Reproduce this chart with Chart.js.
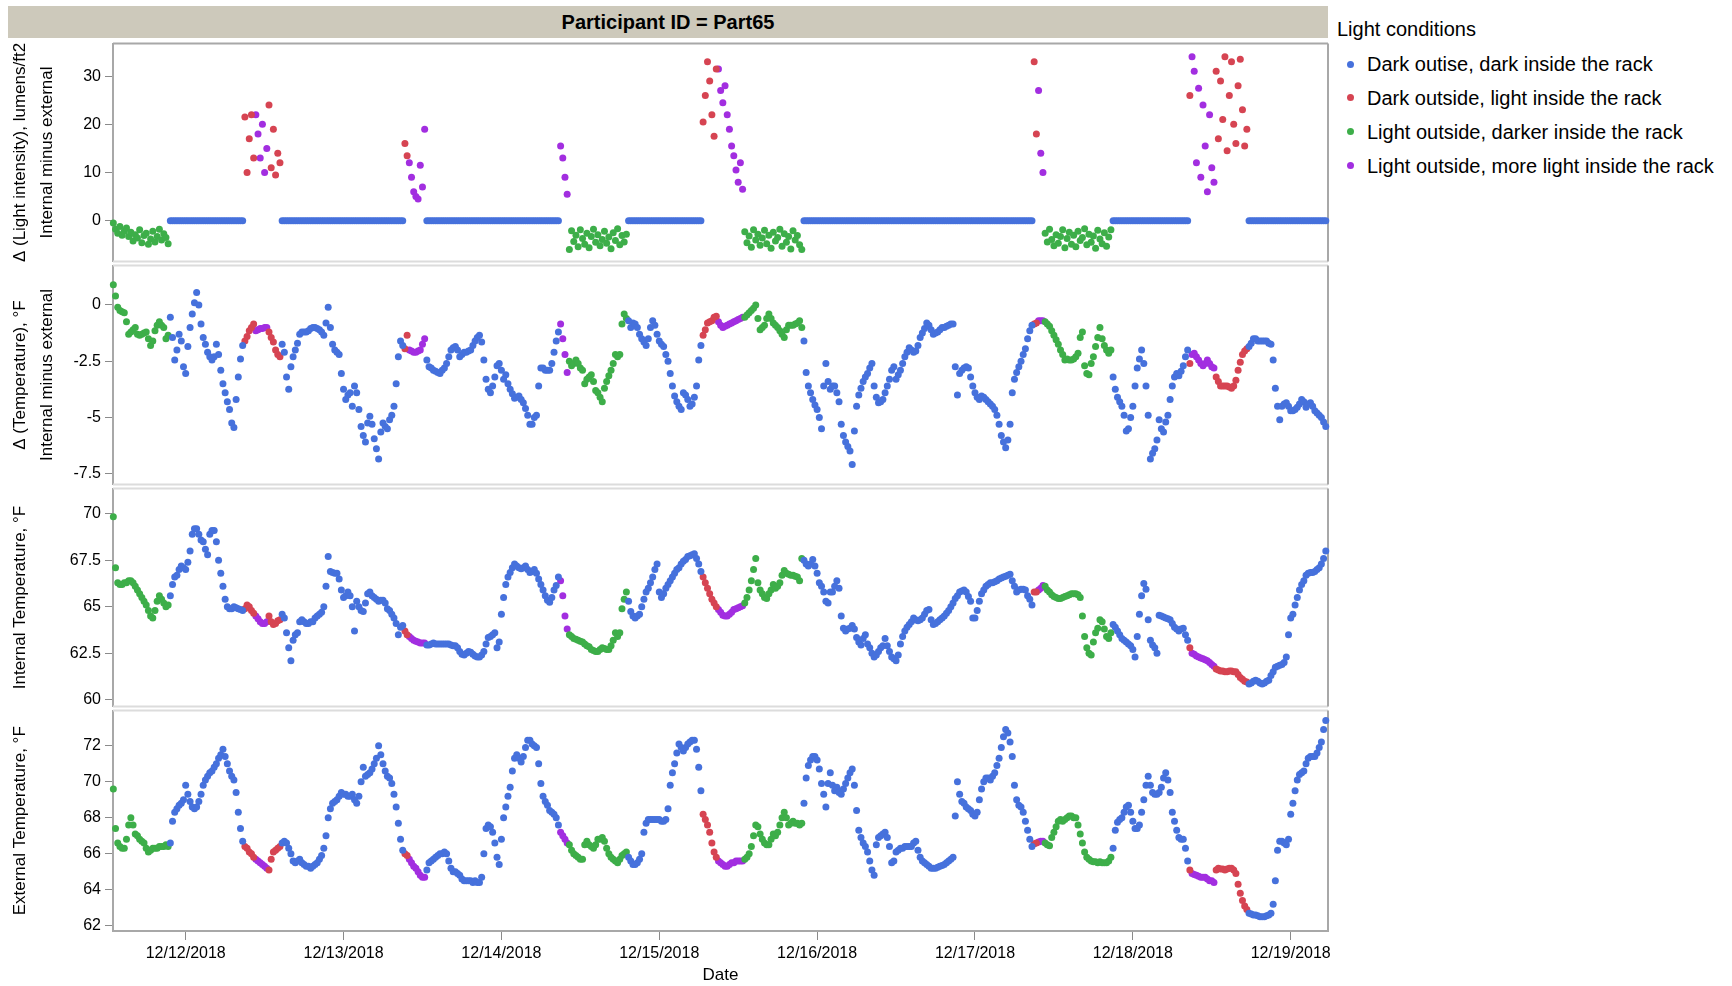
<!DOCTYPE html>
<html lang="en">
<head>
<meta charset="utf-8">
<title>Participant ID = Part65</title>
<script src="https://cdn.jsdelivr.net/npm/chart.js@4.4.1/dist/chart.umd.min.js"></script>
<style>
  html, body { margin: 0; padding: 0; background: #ffffff; }
  #page { position: relative; width: 1732px; height: 986px; overflow: hidden;
          font-family: "Liberation Sans", Arial, Helvetica, sans-serif; color: #000; }
  #header { position: absolute; left: 8px; top: 6px; width: 1320px; height: 32px;
            background: #cdc9bb; font-weight: bold; font-size: 20px; line-height: 32px; text-align: center; }
  canvas { position: absolute; left: 0; }
  #legend { position: absolute; left: 1337px; top: 0; width: 395px; height: 200px; font-size: 20px; }
  #legend .title { position: absolute; left: 0; top: 17px; line-height: 24px; white-space: nowrap; }
  #legend .item { position: absolute; left: 0; line-height: 24px; white-space: nowrap; padding-left: 30px; }
  #legend .dot { position: absolute; left: 9.5px; top: 8.5px; width: 7px; height: 7px; border-radius: 50%; }
</style>
</head>
<body>
<div id="page">
  <div id="header"></div>
  <canvas id="pLight" width="1335" height="245" style="top:30px"></canvas>
  <canvas id="pDelta" width="1335" height="246" style="top:252px"></canvas>
  <canvas id="pInt" width="1335" height="245" style="top:475px"></canvas>
  <canvas id="pExt" width="1335" height="289" style="top:697px"></canvas>
  <div id="legend"></div>
</div>
<script>
// ---------------------------------------------------------------------------
// Data
// ---------------------------------------------------------------------------
const participantId = 'Part65';

// One reading every 20 minutes; x is hours counted from 12/11/2018 00:00.
const START_HOUR = 13;
const STEP_HOURS = 1 / 3;

const legendTitle = 'Light conditions';
const conditionOrder = ['dd', 'dl', 'ld', 'll'];
const conditionLabels = {
  dd: 'Dark outise, dark inside the rack',
  dl: 'Dark outside, light inside the rack',
  ld: 'Light outside, darker inside the rack',
  ll: 'Light outside, more light inside the rack'
};

// Light condition of consecutive readings: [condition, number of readings]
const conditionRuns = [
  ['ld', 26], ['dd', 34], ['dl', 5], ['ll', 6], ['dl', 6], ['dd', 56],
  ['dl', 2], ['ll', 8], ['dd', 61], ['ll', 4], ['ld', 27], ['dd', 34],
  ['dl', 7], ['ll', 12], ['ld', 27], ['dd', 105], ['dl', 2], ['ll', 3],
  ['ld', 31], ['dd', 35], ['dl', 1], ['ll', 11], ['dl', 15], ['dd', 36]
];

// Each row below holds 4 hours of readings.
// Δ light intensity, internal minus external (lumens/ft2)
const lightDelta = [
  -0.5, -1.8, -2.6, -1.2, -3.0, -2.2, -1.5, -3.3, -2.4, -4.2, -2.9, -3.6,
  -1.9, -4.6, -3.1, -2.6, -4.9, -3.8, -2.2, -4.4, -3.3, -1.8, -4.0, -2.7,
  -3.5, -4.8, 0, 0, 0, 0, 0, 0, 0, 0, 0, 0,
  0, 0, 0, 0, 0, 0, 0, 0, 0, 0, 0, 0,
  0, 0, 0, 0, 0, 0, 0, 0, 0, 0, 0, 0,
  21.5, 10.0, 17.0, 22.0, 13.0, 22.0, 18.0, 13.0, 20.0, 10.0, 15.0, 24.0,
  11.0, 19.0, 9.5, 14.0, 12.0, 0, 0, 0, 0, 0, 0, 0,
  0, 0, 0, 0, 0, 0, 0, 0, 0, 0, 0, 0,
  0, 0, 0, 0, 0, 0, 0, 0, 0, 0, 0, 0,
  0, 0, 0, 0, 0, 0, 0, 0, 0, 0, 0, 0,
  0, 0, 0, 0, 0, 0, 0, 0, 0, 0, 0, 0,
  0, 16.0, 13.5, 12.0, 9.0, 6.0, 5.0, 4.5, 11.5, 7.0, 19.0, 0,
  0, 0, 0, 0, 0, 0, 0, 0, 0, 0, 0, 0,
  0, 0, 0, 0, 0, 0, 0, 0, 0, 0, 0, 0,
  0, 0, 0, 0, 0, 0, 0, 0, 0, 0, 0, 0,
  0, 0, 0, 0, 0, 0, 0, 0, 0, 0, 0, 0,
  0, 0, 0, 0, 0, 0, 0, 0, 0, 0, 0, 0,
  15.5, 13.0, 9.0, 5.5, -6.0, -2.1, -4.3, -3.0, -5.4, -1.9, -3.7, -4.9,
  -2.6, -5.6, -3.3, -1.8, -4.5, -2.9, -5.2, -3.9, -2.2, -4.7, -3.4, -5.8,
  -2.5, -4.1, -1.7, -5.0, -3.1, -4.4, -2.8, 0, 0, 0, 0, 0,
  0, 0, 0, 0, 0, 0, 0, 0, 0, 0, 0, 0,
  0, 0, 0, 0, 0, 0, 0, 0, 0, 0, 0, 0,
  0, 0, 0, 0, 0, 20.5, 26.0, 33.0, 29.0, 22.0, 17.5, 31.5,
  31.5, 27.0, 24.5, 28.0, 22.0, 19.0, 15.5, 13.5, 10.5, 8.0, 12.0, 6.5,
  -2.3, -4.6, -3.2, -5.5, -1.9, -4.0, -2.8, -5.1, -3.6, -2.0, -4.8, -3.0,
  -5.7, -2.4, -4.2, -3.5, -1.8, -5.3, -2.7, -4.5, -3.3, -5.9, -2.1, -4.0,
  -3.1, -5.0, -6.0, 0, 0, 0, 0, 0, 0, 0, 0, 0,
  0, 0, 0, 0, 0, 0, 0, 0, 0, 0, 0, 0,
  0, 0, 0, 0, 0, 0, 0, 0, 0, 0, 0, 0,
  0, 0, 0, 0, 0, 0, 0, 0, 0, 0, 0, 0,
  0, 0, 0, 0, 0, 0, 0, 0, 0, 0, 0, 0,
  0, 0, 0, 0, 0, 0, 0, 0, 0, 0, 0, 0,
  0, 0, 0, 0, 0, 0, 0, 0, 0, 0, 0, 0,
  0, 0, 0, 0, 0, 0, 0, 0, 0, 0, 0, 0,
  0, 0, 0, 0, 0, 0, 0, 0, 0, 0, 0, 0,
  33.0, 18.0, 27.0, 14.0, 10.0, -2.6, -4.4, -1.8, -3.9, -5.2, -2.9, -4.7,
  -3.3, -1.9, -5.6, -3.7, -2.4, -4.9, -3.0, -5.4, -2.2, -4.1, -3.5, -1.7,
  -5.0, -2.8, -4.5, -3.2, -5.7, -2.0, -3.8, -4.8, -2.5, -5.3, -3.4, -1.9,
  0, 0, 0, 0, 0, 0, 0, 0, 0, 0, 0, 0,
  0, 0, 0, 0, 0, 0, 0, 0, 0, 0, 0, 0,
  0, 0, 0, 0, 0, 0, 0, 0, 0, 0, 0, 26.0,
  34.0, 31.0, 12.0, 27.5, 9.0, 24.0, 15.5, 6.0, 22.0, 11.0, 8.0, 31.0,
  17.0, 29.0, 21.0, 34.0, 14.5, 26.0, 33.0, 20.0, 16.0, 28.0, 33.5, 23.0,
  15.5, 19.0, 0, 0, 0, 0, 0, 0, 0, 0, 0, 0,
  0, 0, 0, 0, 0, 0, 0, 0, 0, 0, 0, 0,
  0, 0, 0, 0, 0, 0, 0, 0, 0, 0, 0, 0,
  0, 0
];

// Δ temperature, internal minus external (°F)
const tempDelta = [
  0.9, 0.4, -0.1, -0.25, -0.3, -0.35, -0.75, -1.3, -1.2, -1.1, -1.0, -1.3,
  -1.35, -1.3, -1.25, -1.2, -1.5, -1.8, -1.6, -1.15, -0.9, -0.75, -0.9, -1.0,
  -1.5, -1.35, -0.55, -1.45, -2.45, -2.0, -1.3, -1.6, -2.75, -3.05, -1.85, -1.0,
  -0.4, 0.1, 0.55, 0.0, -0.85, -1.45, -1.75, -2.1, -2.3, -2.45, -2.3, -1.75,
  -2.2, -2.9, -3.5, -3.9, -4.3, -4.65, -5.25, -5.45, -4.2, -3.2, -2.4, -1.8,
  -1.6, -1.4, -1.15, -1.0, -0.85, -1.15, -1.1, -1.05, -1.05, -1.0, -1.0, -1.2,
  -1.45, -1.65, -2.0, -2.2, -2.3, -1.75, -2.1, -3.2, -3.75, -2.75, -2.3, -2.0,
  -1.7, -1.3, -1.2, -1.2, -1.2, -1.15, -1.05, -1.0, -1.0, -1.05, -1.1, -1.2,
  -1.35, -0.8, -0.1, -1.0, -1.75, -2.0, -2.1, -2.2, -3.05, -3.75, -4.2, -4.0,
  -3.9, -4.5, -3.6, -3.9, -4.65, -5.4, -5.8, -6.1, -5.25, -4.95, -5.3, -5.95,
  -6.4, -6.85, -5.65, -5.25, -5.4, -5.5, -5.1, -4.9, -4.5, -3.5, -2.3, -1.6,
  -1.8, -1.95, -1.35, -2.0, -2.05, -2.1, -2.1, -2.05, -2.0, -1.75, -1.5, -2.45,
  -2.75, -2.8, -2.9, -2.95, -3.0, -3.05, -2.9, -2.8, -2.6, -2.3, -2.0, -1.9,
  -1.85, -2.0, -2.3, -2.2, -2.1, -2.1, -2.05, -2.0, -1.8, -1.6, -1.45, -1.35,
  -1.65, -2.45, -3.3, -3.75, -3.9, -3.6, -3.2, -2.7, -2.6, -2.9, -3.3, -3.1,
  -3.5, -3.75, -3.95, -4.15, -4.1, -4.05, -4.2, -4.35, -4.6, -4.9, -5.3, -5.3,
  -5.0, -4.9, -3.6, -2.8, -2.8, -2.9, -2.9, -2.9, -2.6, -2.1, -1.6, -1.2,
  -0.85, -1.5, -2.2, -3.0, -2.5, -2.7, -2.6, -2.45, -2.6, -2.8, -2.9, -3.5,
  -3.3, -3.2, -3.1, -3.4, -3.8, -3.9, -4.1, -4.3, -3.7, -3.4, -3.15, -2.9,
  -2.6, -2.2, -2.3, -2.2, -0.85, -0.4, -0.6, -0.7, -1.0, -0.8, -0.85, -1.0,
  -1.3, -1.5, -1.65, -1.8, -1.5, -1.0, -0.7, -0.9, -1.3, -1.6, -1.75, -1.85,
  -2.2, -2.5, -3.05, -3.6, -4.05, -4.3, -4.5, -4.65, -3.9, -4.0, -4.2, -4.5,
  -4.4, -4.1, -3.6, -2.45, -1.8, -1.35, -1.1, -0.8, -0.75, -0.7, -0.55, -0.5,
  -0.75, -0.9, -1.0, -0.95, -0.9, -0.85, -0.8, -0.75, -0.7, -0.65, -0.6, -0.55,
  -0.55, -0.45, -0.35, -0.25, -0.15, 0.0, -0.6, -1.1, -1.0, -0.9, -0.6, -0.4,
  -0.6, -0.8, -0.9, -1.0, -1.15, -1.3, -1.45, -1.1, -0.9, -0.9, -0.9, -0.85,
  -0.8, -0.7, -1.0, -1.6, -3.0, -3.6, -3.9, -4.2, -4.45, -4.65, -5.0, -5.5,
  -3.6, -2.6, -3.4, -3.75, -3.6, -3.6, -3.9, -4.3, -5.3, -5.8, -6.1, -6.3,
  -6.5, -7.1, -5.6, -4.5, -4.0, -3.7, -3.4, -3.2, -3.05, -2.8, -2.6, -3.6,
  -4.1, -4.35, -4.3, -4.2, -3.9, -3.6, -3.3, -2.9, -2.75, -3.3, -3.1, -2.9,
  -2.6, -2.3, -2.1, -1.9, -2.0, -2.1, -2.05, -1.8, -1.45, -1.25, -1.05, -0.8,
  -0.9, -1.1, -1.3, -1.25, -1.2, -1.1, -1.0, -1.0, -0.95, -0.9, -0.85, -0.85,
  -2.75, -4.0, -3.05, -2.9, -2.8, -2.75, -2.8, -3.2, -3.6, -3.9, -4.1, -4.2,
  -4.05, -4.1, -4.2, -4.3, -4.4, -4.5, -4.65, -4.9, -5.3, -5.8, -6.1, -6.35,
  -6.0, -5.3, -3.9, -3.3, -3.0, -2.75, -2.5, -2.2, -1.95, -1.5, -1.15, -0.9,
  -0.85, -0.8, -0.7, -0.7, -0.7, -0.75, -0.85, -0.95, -1.15, -1.35, -1.55, -1.75,
  -2.0, -2.2, -2.45, -2.4, -2.45, -2.45, -2.4, -2.3, -2.15, -1.45, -1.2, -2.7,
  -3.05, -3.1, -2.6, -2.3, -1.85, -1.45, -1.0, -1.5, -1.8, -2.0, -2.15, -2.0,
  -3.2, -3.75, -4.1, -4.3, -4.5, -4.9, -5.6, -5.5, -5.0, -4.5, -3.6, -2.8,
  -2.4, -2.0, -2.6, -3.6, -4.9, -6.85, -6.6, -6.4, -6.0, -5.1, -5.5, -5.65,
  -5.2, -4.9, -4.2, -3.6, -3.2, -3.05, -3.15, -2.95, -2.7, -2.3, -2.0, -2.6,
  -2.2, -2.15, -2.3, -2.45, -2.6, -2.7, -2.6, -2.45, -2.6, -2.75, -2.8, -3.2,
  -3.4, -3.6, -3.6, -3.6, -3.6, -3.65, -3.7, -3.6, -3.35, -2.9, -2.55, -2.2,
  -2.05, -1.95, -1.85, -1.7, -1.5, -1.5, -1.6, -1.6, -1.6, -1.6, -1.6, -1.7,
  -1.75, -2.45, -3.7, -4.5, -5.1, -4.5, -4.4, -4.35, -4.5, -4.7, -4.7, -4.65,
  -4.55, -4.4, -4.2, -4.3, -4.55, -4.4, -4.35, -4.5, -4.7, -4.8, -4.9, -5.0,
  -5.2, -5.4
];

// Internal temperature (°F)
const internalTemp = [
  69.85, 67.1, 66.3, 66.2, 66.2, 66.3, 66.3, 66.4, 66.4, 66.3, 66.1, 65.9,
  65.7, 65.5, 65.3, 65.1, 64.8, 64.5, 64.4, 64.8, 65.3, 65.6, 65.4, 65.2,
  65.0, 65.1, 65.6, 66.2, 66.6, 66.7, 67.0, 67.2, 67.1, 67.0, 67.4, 68.0,
  68.9, 69.2, 69.2, 68.9, 68.6, 68.5, 68.1, 67.8, 68.9, 69.1, 69.1, 68.5,
  67.5, 66.8, 66.1, 65.4, 65.0, 64.9, 64.9, 65.0, 64.95, 64.9, 64.85, 64.8,
  64.9, 65.1, 65.0, 64.8, 64.65, 64.5, 64.35, 64.2, 64.1, 64.1, 64.2, 64.5,
  64.2, 64.05, 64.1, 64.25, 64.3, 64.6, 64.4, 63.6, 62.8, 62.1, 63.2, 63.5,
  63.6, 64.2, 64.3, 64.2, 64.1, 64.1, 64.2, 64.2, 64.4, 64.5, 64.6, 64.7,
  65.0, 66.1, 67.7, 66.9, 66.85, 66.8, 66.8, 66.5, 65.9, 65.5, 65.6, 65.8,
  65.6, 65.0, 63.7, 65.3, 65.0, 64.8, 64.75, 65.2, 65.7, 65.8, 65.6, 65.5,
  65.4, 65.3, 65.35, 65.35, 65.2, 64.9, 64.8, 64.6, 64.4, 64.1, 63.5, 63.9,
  64.0, 63.7, 63.5, 63.4, 63.3, 63.2, 63.15, 63.1, 63.05, 63.05, 63.05, 62.95,
  62.95, 63.0, 63.05, 63.0, 63.0, 63.0, 63.0, 63.0, 63.0, 63.0, 62.95, 62.9,
  62.9, 62.8, 62.6, 62.45, 62.4, 62.5, 62.6, 62.55, 62.45, 62.35, 62.3, 62.3,
  62.4, 62.6, 63.0, 63.35, 63.4, 63.5, 63.6, 62.8, 63.1, 64.6, 65.5, 66.2,
  66.6, 66.85, 67.1, 67.3, 67.2, 67.1, 67.05, 67.1, 67.2, 67.0, 66.85, 66.9,
  67.0, 66.8, 66.5, 66.2, 65.9, 65.6, 65.35, 65.25, 65.5, 65.9, 66.15, 66.6,
  66.4, 65.6, 64.5, 63.8, 63.5, 63.4, 63.3, 63.25, 63.2, 63.15, 63.1, 63.0,
  62.9, 62.85, 62.7, 62.65, 62.6, 62.6, 62.7, 62.8, 62.75, 62.7, 62.7, 62.9,
  63.2, 63.6, 63.4, 63.6, 64.9, 65.4, 65.8, 65.3, 64.75, 64.5, 64.4, 64.5,
  64.6, 65.0, 65.4, 65.8, 66.0, 66.3, 66.6, 67.0, 67.3, 65.8, 65.5, 65.7,
  66.0, 66.2, 66.4, 66.6, 66.8, 67.0, 67.1, 67.3, 67.45, 67.55, 67.7, 67.75,
  67.8, 67.85, 67.6, 67.3, 66.9, 66.6, 66.3, 66.0, 65.7, 65.4, 65.2, 65.0,
  64.85, 64.7, 64.55, 64.5, 64.5, 64.6, 64.7, 64.85, 64.9, 64.95, 65.0, 65.05,
  65.2, 65.5, 65.9, 66.4, 67.0, 67.6, 66.3, 65.9, 65.7, 65.5, 65.45, 65.7,
  65.9, 66.2, 66.0, 66.1, 66.3, 66.7, 66.95, 66.8, 66.75, 66.7, 66.7, 66.65,
  66.6, 66.4, 67.6, 67.5, 67.3, 67.2, 67.3, 67.55, 67.2, 66.8, 66.3, 66.1,
  65.8, 65.3, 65.2, 65.8, 65.8, 66.1, 66.4, 66.0, 64.5, 63.85, 63.7, 63.8,
  63.85, 64.0, 63.8, 63.35, 63.1, 62.95, 63.3, 63.5, 63.0, 62.8, 62.5, 62.3,
  62.4, 62.6, 62.8, 62.9, 63.3, 62.9, 62.6, 62.3, 62.2, 62.1, 62.4, 63.0,
  63.4, 63.7, 63.9, 64.05, 64.2, 64.4, 64.3, 64.25, 64.3, 64.4, 64.6, 64.8,
  64.85, 64.3, 64.05, 64.1, 64.2, 64.3, 64.4, 64.5, 64.65, 64.8, 65.0, 65.2,
  65.45, 65.6, 65.8, 65.85, 65.9, 65.8, 65.55, 65.3, 64.4, 64.4, 64.8, 65.3,
  65.7, 65.9, 66.1, 66.2, 66.3, 66.3, 66.35, 66.4, 66.5, 66.55, 66.6, 66.65,
  66.7, 66.75, 66.4, 66.1, 65.8, 65.9, 65.95, 65.95, 65.9, 65.6, 65.4, 65.1,
  65.8, 65.8, 65.9, 66.0, 66.15, 66.1, 65.9, 65.8, 65.65, 65.55, 65.5, 65.45,
  65.45, 65.5, 65.55, 65.6, 65.65, 65.7, 65.7, 65.7, 65.65, 65.5, 64.5, 63.4,
  62.8, 62.5, 62.4, 63.1, 63.6, 63.85, 64.3, 64.2, 63.8, 63.4, 63.3, 63.6,
  64.05, 63.9, 63.7, 63.5, 63.3, 63.2, 63.1, 63.0, 62.9, 62.7, 62.3, 63.4,
  64.6, 65.6, 66.25, 65.95, 64.3, 63.2, 62.95, 62.8, 62.5, 64.55, 64.5, 64.45,
  64.4, 64.35, 64.3, 64.1, 63.9, 63.8, 63.7, 63.8, 63.85, 63.5, 63.2, 62.8,
  62.5, 62.45, 62.35, 62.3, 62.25, 62.2, 62.15, 62.1, 62.0, 61.9, 61.8, 61.65,
  61.6, 61.55, 61.55, 61.5, 61.5, 61.55, 61.55, 61.5, 61.5, 61.35, 61.2, 61.1,
  61.0, 60.95, 60.85, 60.9, 61.0, 61.05, 61.0, 60.9, 60.85, 60.9, 61.0, 61.05,
  61.3, 61.5, 61.75, 61.8, 61.85, 61.9, 62.0, 62.3, 63.5, 64.4, 64.6, 65.1,
  65.5, 65.9, 66.2, 66.4, 66.7, 66.8, 66.85, 66.85, 66.9, 67.0, 67.1, 67.3,
  67.6, 68.0
];

// External temperature (°F)
const externalTemp = [
  69.6, 67.4, 66.6, 66.4, 66.3, 66.3, 66.8, 67.6, 68.0, 67.6, 67.1, 67.0,
  66.8, 66.7, 66.6, 66.3, 66.1, 66.2, 66.3, 66.3, 66.3, 66.4, 66.4, 66.4,
  66.5, 66.4, 66.6, 67.8, 68.3, 68.5, 68.7, 68.8, 69.0, 69.8, 69.3, 68.9,
  68.6, 68.5, 68.6, 68.9, 69.3, 69.8, 70.1, 70.3, 70.5, 70.6, 70.8, 71.0,
  71.3, 71.5, 71.8, 71.4, 71.0, 70.6, 70.3, 70.1, 69.4, 68.3, 67.4, 66.7,
  66.4, 66.3, 66.1, 66.0, 65.8, 65.7, 65.6, 65.5, 65.4, 65.3, 65.2, 65.1,
  65.7, 66.1, 66.2, 66.3, 66.4, 66.6, 66.7, 66.6, 66.3, 66.0, 65.6, 65.5,
  65.6, 65.7, 65.5, 65.4, 65.3, 65.3, 65.2, 65.3, 65.4, 65.5, 65.7, 65.9,
  66.3, 67.0, 68.0, 68.5, 68.8, 68.9, 69.0, 69.2, 69.4, 69.3, 69.3, 69.2,
  69.2, 69.3, 69.0, 68.8, 69.2, 70.0, 70.8, 70.3, 70.4, 70.5, 70.7, 71.0,
  71.3, 72.0, 71.5, 71.0, 70.6, 70.3, 70.2, 69.9, 69.3, 68.6, 67.7, 66.8,
  66.2, 66.0, 65.9, 65.7, 65.5, 65.3, 65.2, 65.0, 64.8, 64.7, 64.7, 65.1,
  65.5, 65.6, 65.7, 65.8, 65.9, 66.0, 66.0, 66.1, 66.0, 65.6, 65.2, 65.0,
  65.0, 64.9, 64.8, 64.6, 64.5, 64.5, 64.5, 64.5, 64.4, 64.5, 64.4, 64.4,
  64.7, 66.0, 67.4, 67.6, 67.5, 67.2, 66.6, 65.8, 65.4, 66.8, 68.0, 68.6,
  69.2, 69.7, 70.6, 71.3, 71.5, 71.3, 71.1, 71.4, 71.9, 72.3, 72.3, 72.1,
  72.0, 71.9, 71.0, 69.9, 69.2, 68.9, 68.7, 68.4, 68.3, 68.2, 68.0, 67.6,
  67.2, 67.0, 66.8, 66.6, 66.5, 66.2, 66.0, 65.9, 65.8, 65.7, 65.7, 66.5,
  66.7, 66.5, 66.4, 66.3, 66.5, 66.8, 66.8, 66.9, 66.7, 66.3, 66.0, 65.8,
  65.7, 65.6, 65.5, 65.7, 65.9, 66.0, 66.1, 65.8, 65.6, 65.4, 65.4, 65.5,
  65.7, 66.0, 67.2, 67.7, 67.9, 67.9, 67.9, 67.9, 67.9, 67.9, 67.8, 67.8,
  67.9, 68.5, 69.8, 70.5, 71.0, 71.6, 72.1, 71.9, 71.7, 71.9, 72.1, 72.2,
  72.3, 72.3, 71.8, 70.8, 69.5, 68.2, 67.9, 67.6, 67.2, 66.6, 66.1, 65.8,
  65.6, 65.5, 65.4, 65.3, 65.3, 65.4, 65.5, 65.5, 65.6, 65.6, 65.6, 65.6,
  65.7, 65.8, 66.0, 66.4, 67.0, 67.6, 67.5, 67.1, 66.8, 66.6, 66.5, 66.5,
  66.8, 67.1, 67.0, 67.2, 67.6, 68.0, 68.3, 68.0, 67.6, 67.7, 67.8, 67.7,
  67.7, 67.6, 67.7, 68.8, 70.2, 70.9, 71.2, 71.4, 71.4, 71.2, 70.7, 69.9,
  69.3, 68.6, 69.9, 70.5, 69.8, 69.5, 69.7, 69.4, 69.3, 69.6, 69.9, 70.2,
  70.5, 70.7, 69.8, 68.4, 67.3, 66.9, 66.6, 66.4, 66.1, 65.6, 65.1, 64.8,
  66.5, 66.9, 67.0, 67.1, 67.2, 66.9, 66.4, 65.5, 65.6, 66.1, 66.2, 66.3,
  66.3, 66.4, 66.4, 66.4, 66.4, 66.6, 66.7, 66.2, 65.8, 65.6, 65.5, 65.4,
  65.3, 65.2, 65.2, 65.2, 65.25, 65.3, 65.35, 65.4, 65.5, 65.6, 65.7, 65.8,
  68.1, 70.0, 69.3, 68.9, 68.8, 68.6, 68.5, 68.4, 68.2, 68.1, 68.3, 69.0,
  69.6, 70.0, 70.2, 70.2, 70.1, 70.3, 70.5, 70.9, 71.3, 71.9, 72.5, 72.9,
  72.7, 72.2, 71.4, 69.8, 69.0, 68.7, 68.6, 68.3, 67.8, 67.3, 66.8, 66.4,
  66.55, 66.6, 66.65, 66.7, 66.7, 66.6, 66.5, 66.45, 66.9, 67.2, 67.5, 67.8,
  67.9, 67.8, 67.9, 68.0, 68.1, 68.1, 68.0, 68.0, 67.6, 67.1, 66.6, 66.1,
  65.8, 65.7, 65.6, 65.55, 65.55, 65.5, 65.55, 65.5, 65.5, 65.5, 65.6, 65.8,
  66.3, 67.3, 67.75, 67.9, 68.0, 68.3, 68.6, 68.7, 68.3, 67.8, 67.4, 67.4,
  67.6, 68.3, 69.0, 69.8, 70.3, 69.8, 69.4, 69.3, 69.3, 69.4, 69.7, 70.2,
  70.5, 70.1, 69.4, 68.3, 67.8, 67.3, 66.9, 66.8, 66.8, 66.3, 65.6, 65.1,
  64.9, 64.85, 64.8, 64.75, 64.7, 64.7, 64.7, 64.6, 64.5, 64.5, 64.4, 65.1,
  65.2, 65.15, 65.15, 65.1, 65.15, 65.2, 65.2, 65.1, 64.9, 64.3, 63.8, 63.4,
  63.1, 62.9, 62.7, 62.65, 62.6, 62.6, 62.55, 62.5, 62.5, 62.5, 62.55, 62.6,
  62.7, 63.2, 64.5, 66.2, 66.7, 66.7, 66.6, 66.5, 66.8, 68.2, 68.8, 69.5,
  70.1, 70.4, 70.5, 70.6, 71.0, 71.3, 71.4, 71.4, 71.4, 71.6, 71.9, 72.2,
  72.9, 73.4
];

// Axis ticks
const dayTickHours = [24, 48, 72, 96, 120, 144, 168, 192];
const dayTickLabels = ['12/12/2018', '12/13/2018', '12/14/2018', '12/15/2018',
                       '12/16/2018', '12/17/2018', '12/18/2018', '12/19/2018'];
const lightTicks = [0, 10, 20, 30];
const deltaTicks = [-7.5, -5, -2.5, 0];
const internalTicks = [60, 62.5, 65, 67.5, 70];
const externalTicks = [62, 64, 66, 68, 70, 72];

// ---------------------------------------------------------------------------
// Styles and layout
// ---------------------------------------------------------------------------
const conditionColors = { dd: '#4671dc', dl: '#d64452', ld: '#3dae49', ll: '#a22ee0' };
const FONT = '"Liberation Sans", Arial, Helvetica, sans-serif';
const EDGE_DARK = '#a8a8a8';
const EDGE_LIGHT = '#dcdcdc';
const AXIS_WIDTH = 113;
const X_AXIS_HEIGHT = 55;
const X_MIN = 12.95, X_MAX = 197.67;
const POINT_RADIUS = 3.5;

Chart.defaults.font.family = FONT;
Chart.defaults.color = '#000';

// Per-reading condition codes
const codes = [];
conditionRuns.forEach(([code, n]) => { for (let k = 0; k < n; k++) codes.push(code); });

const series = { lightDelta, tempDelta, internalTemp, externalTemp };
Object.keys(series).forEach(name => {
  if (series[name].length !== codes.length) {
    throw new Error(name + ' has ' + series[name].length + ' readings, expected ' + codes.length);
  }
});

function datasetsFor(values) {
  return conditionOrder.map(code => {
    const pts = [];
    codes.forEach((c, i) => { if (c === code) pts.push({ x: START_HOUR + i * STEP_HOURS, y: values[i] }); });
    return {
      label: conditionLabels[code],
      data: pts,
      backgroundColor: conditionColors[code],
      borderWidth: 0,
      pointRadius: POINT_RADIUS,
      pointHoverRadius: POINT_RADIUS,
      clip: false
    };
  });
}

// Draws the panel outline (top, right and bottom edges) under the points.
const panelFrame = {
  id: 'panelFrame',
  beforeDatasetsDraw(chart, args, opts) {
    const { ctx, chartArea: a } = chart;
    ctx.save();
    ctx.lineWidth = 2;
    const line = (x1, y1, x2, y2, color) => {
      ctx.strokeStyle = color; ctx.beginPath(); ctx.moveTo(x1, y1); ctx.lineTo(x2, y2); ctx.stroke();
    };
    line(a.left, a.top, a.right, a.top, opts.top);
    if (opts.bottom) line(a.left, a.bottom, a.right, a.bottom, opts.bottom);
    line(a.right, a.top, a.right, a.bottom, EDGE_DARK);
    ctx.restore();
  }
};

const panels = [
  { canvas: 'pLight', values: lightDelta, ticks: lightTicks, min: -8.45, max: 36.75,
    title: ['Δ (Light intensity), lumens/ft2', 'Internal minus external'],
    top: EDGE_DARK, bottom: EDGE_LIGHT, xAxis: false },
  { canvas: 'pDelta', values: tempDelta, ticks: deltaTicks, min: -7.98, max: 1.75,
    title: ['Δ (Temperature), °F', 'Internal minus external'],
    top: EDGE_LIGHT, bottom: EDGE_LIGHT, xAxis: false },
  { canvas: 'pInt', values: internalTemp, ticks: internalTicks, min: 59.64, max: 71.36,
    title: 'Internal Temperature, °F',
    top: EDGE_LIGHT, bottom: EDGE_LIGHT, xAxis: false },
  { canvas: 'pExt', values: externalTemp, ticks: externalTicks, min: 61.71, max: 73.95,
    title: 'External Temperature, °F',
    top: EDGE_LIGHT, bottom: null, xAxis: true }
];

panels.forEach(p => {
  new Chart(document.getElementById(p.canvas), {
    type: 'scatter',
    data: { datasets: datasetsFor(p.values) },
    plugins: [panelFrame],
    options: {
      responsive: false,
      animation: false,
      devicePixelRatio: 1,
      events: [],
      layout: { padding: { left: 0, right: 7, top: 12, bottom: p.xAxis ? 0 : 12 } },
      plugins: {
        legend: { display: false },
        tooltip: { enabled: false },
        panelFrame: { top: p.top, bottom: p.bottom }
      },
      scales: {
        x: {
          type: 'linear',
          min: X_MIN,
          max: X_MAX,
          display: p.xAxis,
          afterBuildTicks: s => { s.ticks = dayTickHours.map(v => ({ value: v })); },
          afterFit: s => { if (p.xAxis) s.height = X_AXIS_HEIGHT; },
          ticks: {
            callback: (v, i) => dayTickLabels[i],
            font: { size: 16 },
            color: '#000',
            maxRotation: 0,
            autoSkip: false,
            padding: 4
          },
          grid: { drawOnChartArea: false, tickLength: 9, color: '#8a8a8a' },
          border: { color: EDGE_DARK, width: 2 },
          title: { display: true, text: 'Date', font: { size: 17 }, color: '#000', padding: { top: 0, bottom: 0 } }
        },
        y: {
          type: 'linear',
          min: p.min,
          max: p.max,
          afterBuildTicks: s => { s.ticks = p.ticks.map(v => ({ value: v })); },
          afterFit: s => { s.width = AXIS_WIDTH; },
          ticks: { callback: v => String(v), font: { size: 16 }, color: '#000', padding: 4 },
          grid: { drawOnChartArea: false, tickLength: 8, color: '#8a8a8a' },
          border: { color: EDGE_DARK, width: 2 },
          title: {
            display: true,
            text: p.title,
            font: { size: 17, lineHeight: 1.6 },
            color: '#000',
            padding: { top: 6.5, bottom: 0 }
          }
        }
      }
    }
  });
});

// Header and legend
document.getElementById('header').textContent = 'Participant ID = ' + participantId;
const legend = document.getElementById('legend');
const lt = document.createElement('div');
lt.className = 'title';
lt.textContent = legendTitle;
legend.appendChild(lt);
conditionOrder.forEach((code, k) => {
  const item = document.createElement('div');
  item.className = 'item';
  item.style.top = (52 + k * 33.9) + 'px';
  const dot = document.createElement('span');
  dot.className = 'dot';
  dot.style.background = conditionColors[code];
  item.appendChild(dot);
  item.appendChild(document.createTextNode(conditionLabels[code]));
  legend.appendChild(item);
});
</script>
</body>
</html>
